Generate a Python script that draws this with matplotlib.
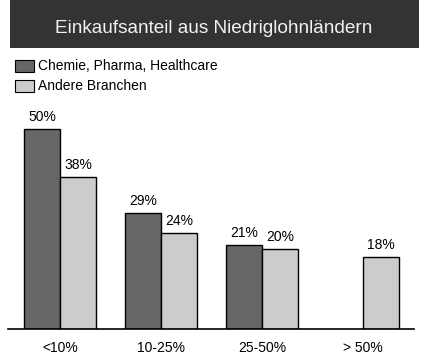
import matplotlib
matplotlib.use("Agg")
import matplotlib.pyplot as plt
from matplotlib.patches import Rectangle
import numpy as np

plt.rcParams['font.family'] = ['Liberation Sans', 'DejaVu Sans']

categories = ["<10%", "10-25%", "25-50%", "> 50%"]
chemie = [50, 29, 21, None]
andere = [38, 24, 20, 18]
series_names = ["Chemie, Pharma, Healthcare", "Andere Branchen"]
title = "Einkaufsanteil aus Niedriglohnländern"

W, H = 425, 357
fig = plt.figure(figsize=(W / 100, H / 100), dpi=100)
fig.patch.set_facecolor("white")

# title band
fig.patches.append(Rectangle((10 / W, 1 - 48 / H), 409 / W, 48 / H,
                             transform=fig.transFigure, facecolor="#333333",
                             edgecolor="none"))
fig.text(214 / W, 1 - 33 / H, title, color="#f2f2f2", fontsize=13.7,
         ha="center", va="baseline")

# legend
colors = ["#666666", "#cccccc"]
for i, (name, c) in enumerate(zip(series_names, colors)):
    ytop = 60 + i * 20
    fig.patches.append(Rectangle((15 / W, 1 - (ytop + 12) / H), 19 / W, 12 / H,
                                 transform=fig.transFigure, facecolor=c,
                                 edgecolor="black", linewidth=0.8))
    fig.text(38 / W, 1 - (ytop + 6) / H, name, fontsize=10, ha="left",
             va="center", color="black")

# axes
ax_top_px, ax_bot_px = 100, 329
ax = fig.add_axes([8 / W, (H - ax_bot_px) / H, 406 / W, (ax_bot_px - ax_top_px) / H])
x = np.arange(len(categories))
w = 0.356
ax.set_xlim(-0.515, 3.505)
ax.set_ylim(0, (ax_bot_px - ax_top_px) / 4)

for xi, v in zip(x, chemie):
    if v is None:
        continue
    ax.bar(xi - w / 2, v, w, color=colors[0], edgecolor="black", linewidth=1)
    ax.text(xi - w / 2, v + 1.3, f"{v}%", ha="center", va="bottom", fontsize=10)
for xi, v in zip(x, andere):
    ax.bar(xi + w / 2, v, w, color=colors[1], edgecolor="black", linewidth=1)
    ax.text(xi + w / 2, v + 1.3, f"{v}%", ha="center", va="bottom", fontsize=10)

for s in ["top", "right", "left"]:
    ax.spines[s].set_visible(False)
ax.spines["bottom"].set_linewidth(1.2)
ax.set_yticks([])
ax.set_xticks(x)
ax.set_xticklabels(categories, fontsize=10)
ax.tick_params(axis="x", length=0, pad=9)
ax.patch.set_alpha(0)

fig.savefig("out.png", dpi=100)
